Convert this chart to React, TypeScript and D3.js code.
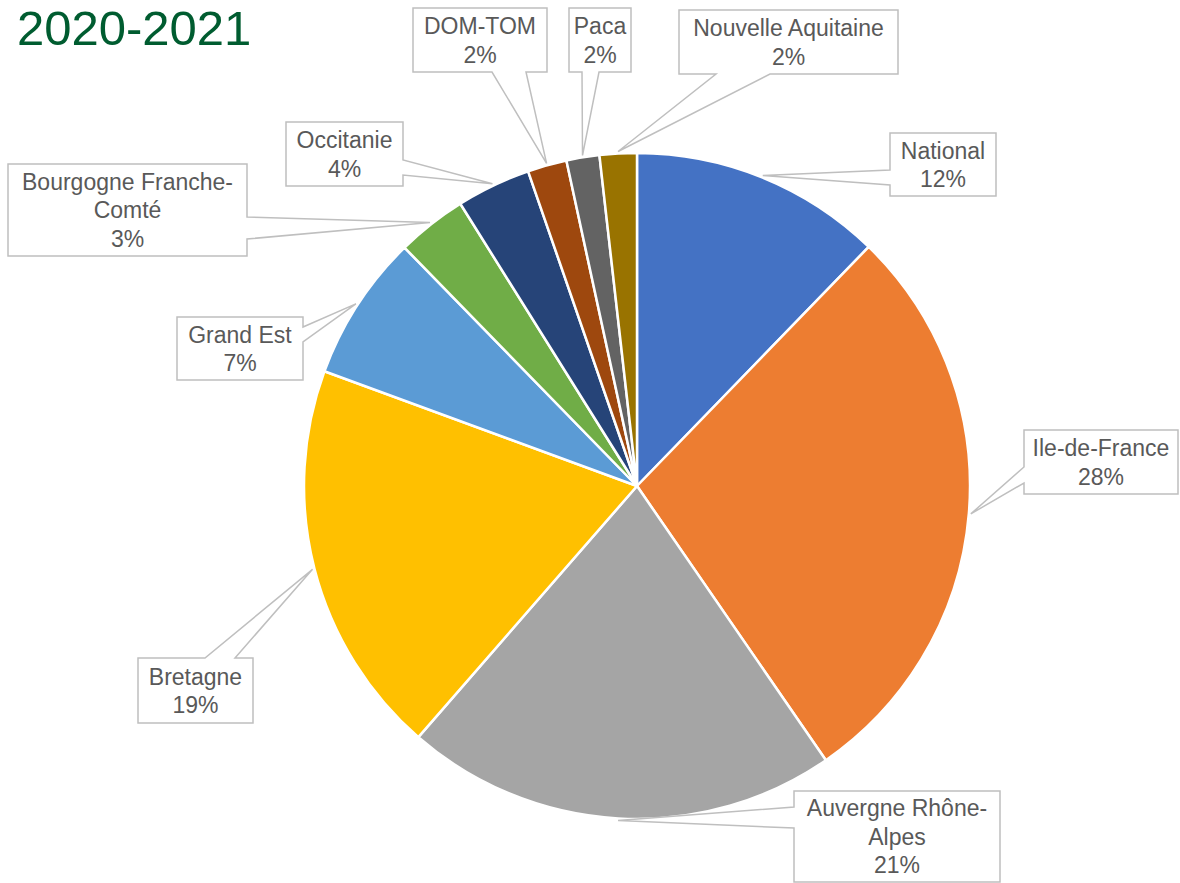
import { useEffect, useRef } from "react";
import * as d3 from "d3";

// Regions, clockwise from 12 o'clock
const REGIONS = [
  "National",
  "Ile-de-France",
  "Auvergne Rhône-Alpes",
  "Bretagne",
  "Grand Est",
  "Bourgogne Franche-Comté",
  "Occitanie",
  "DOM-TOM",
  "Paca",
  "Nouvelle Aquitaine",
];
const SHARES = [12.25, 28.15, 21.0, 19.2, 7.1, 3.4, 3.6, 1.9, 1.6, 1.8];
const COLORS = [
  "#4472C4",
  "#ED7D31",
  "#A5A5A5",
  "#FFC000",
  "#5B9BD5",
  "#70AD47",
  "#264478",
  "#9E480E",
  "#636363",
  "#997300",
];
// how each label wraps inside its callout
const LABEL_LINES: string[][] = [
  ["National"],
  ["Ile-de-France"],
  ["Auvergne Rhône-", "Alpes"],
  ["Bretagne"],
  ["Grand Est"],
  ["Bourgogne Franche-", "Comté"],
  ["Occitanie"],
  ["DOM-TOM"],
  ["Paca"],
  ["Nouvelle Aquitaine"],
];

type Side = "top" | "right" | "bottom" | "left";
interface Callout {
  x: number;
  y: number;
  w: number;
  h: number;
  side: Side;
  b1: number; // pointer base, offset along edge
  b2: number;
}

// callout box layout (same order as REGIONS)
const CALLOUTS: Callout[] = [
  { x: 890, y: 133, w: 106, h: 63, side: "left", b1: 37, b2: 52 },
  { x: 1024, y: 430, w: 154, h: 64, side: "left", b1: 37, b2: 53 },
  { x: 794, y: 791, w: 206, h: 91, side: "left", b1: 16, b2: 37 },
  { x: 138, y: 658, w: 115, h: 65, side: "top", b1: 67, b2: 97 },
  { x: 177, y: 317, w: 126, h: 63, side: "right", b1: 10, b2: 25 },
  { x: 8, y: 164, w: 239, h: 92, side: "right", b1: 53, b2: 75 },
  { x: 286, y: 122, w: 117, h: 64, side: "right", b1: 38, b2: 53 },
  { x: 413, y: 8, w: 134, h: 64, side: "bottom", b1: 79, b2: 113 },
  { x: 569, y: 8, w: 62, h: 64, side: "bottom", b1: 13, b2: 30 },
  { x: 679, y: 10, w: 219, h: 64, side: "bottom", b1: 37, b2: 91 },
];

const W = 1180;
const H = 883;
const CX = 637;
const CY = 486;
const R = 333;
const FONT = "'Liberation Sans', Arial, sans-serif";

function calloutPath(c: Callout, ax: number, ay: number): string {
  const { x, y, w, h, side, b1, b2 } = c;
  const lo = Math.min(b1, b2);
  const hi = Math.max(b1, b2);
  const p: [number, number][] = [[x, y]];
  if (side === "top") p.push([x + lo, y], [ax, ay], [x + hi, y]);
  p.push([x + w, y]);
  if (side === "right") p.push([x + w, y + lo], [ax, ay], [x + w, y + hi]);
  p.push([x + w, y + h]);
  if (side === "bottom") p.push([x + hi, y + h], [ax, ay], [x + lo, y + h]);
  p.push([x, y + h]);
  if (side === "left") p.push([x, y + hi], [ax, ay], [x, y + lo]);
  return "M" + p.map((q) => q.join(",")).join("L") + "Z";
}

export default function App() {
  const ref = useRef<SVGSVGElement>(null);

  useEffect(() => {
    document.body.style.margin = "0";
    const svg = d3.select(ref.current);
    svg.selectAll("*").remove();

    const total = d3.sum(SHARES);
    const data = REGIONS.map((name, i) => ({ name, value: SHARES[i], i }));
    const arcs = d3
      .pie<{ name: string; value: number; i: number }>()
      .value((d) => d.value)
      .sort(null)(data);

    const arc = d3
      .arc<d3.PieArcDatum<{ name: string; value: number; i: number }>>()
      .innerRadius(0)
      .outerRadius(R);

    const g = svg.append("g").attr("transform", `translate(${CX},${CY})`);
    g.selectAll("path")
      .data(arcs)
      .join("path")
      .attr("d", arc)
      .attr("fill", (d) => COLORS[d.data.i])
      .attr("stroke", "#fff")
      .attr("stroke-width", 2.5)
      .attr("stroke-linejoin", "round");

    // callouts
    const lab = svg.append("g");
    arcs.forEach((a) => {
      const i = a.data.i;
      const c = CALLOUTS[i];
      const mid = (a.startAngle + a.endAngle) / 2;
      const ax = CX + (R + 2) * Math.sin(mid);
      const ay = CY - (R + 2) * Math.cos(mid);
      lab
        .append("path")
        .attr("d", calloutPath(c, ax, ay))
        .attr("fill", "#fff")
        .attr("stroke", "#BFBFBF")
        .attr("stroke-width", 1.5);

      const lines = [...LABEL_LINES[i], `${Math.round((a.data.value / total) * 100)}%`];
      const lh = 28.5;
      const fs = 23;
      const c0 = c.y + c.h / 2 - ((lines.length - 1) * lh) / 2;
      lines.forEach((t, k) => {
        lab
          .append("text")
          .attr("x", c.x + c.w / 2)
          .attr("y", c0 + k * lh + fs * 0.36)
          .attr("text-anchor", "middle")
          .attr("font-family", FONT)
          .attr("font-size", fs)
          .attr("fill", "#595959")
          .text(t);
      });
    });

    svg
      .append("text")
      .attr("x", 17)
      .attr("y", 45)
      .attr("font-family", FONT)
      .attr("font-size", 49)
      .attr("fill", "#005C30")
      .text("2020-2021");
  }, []);

  return <svg ref={ref} width={W} height={H} style={{ display: "block", background: "#fff" }} />;
}
